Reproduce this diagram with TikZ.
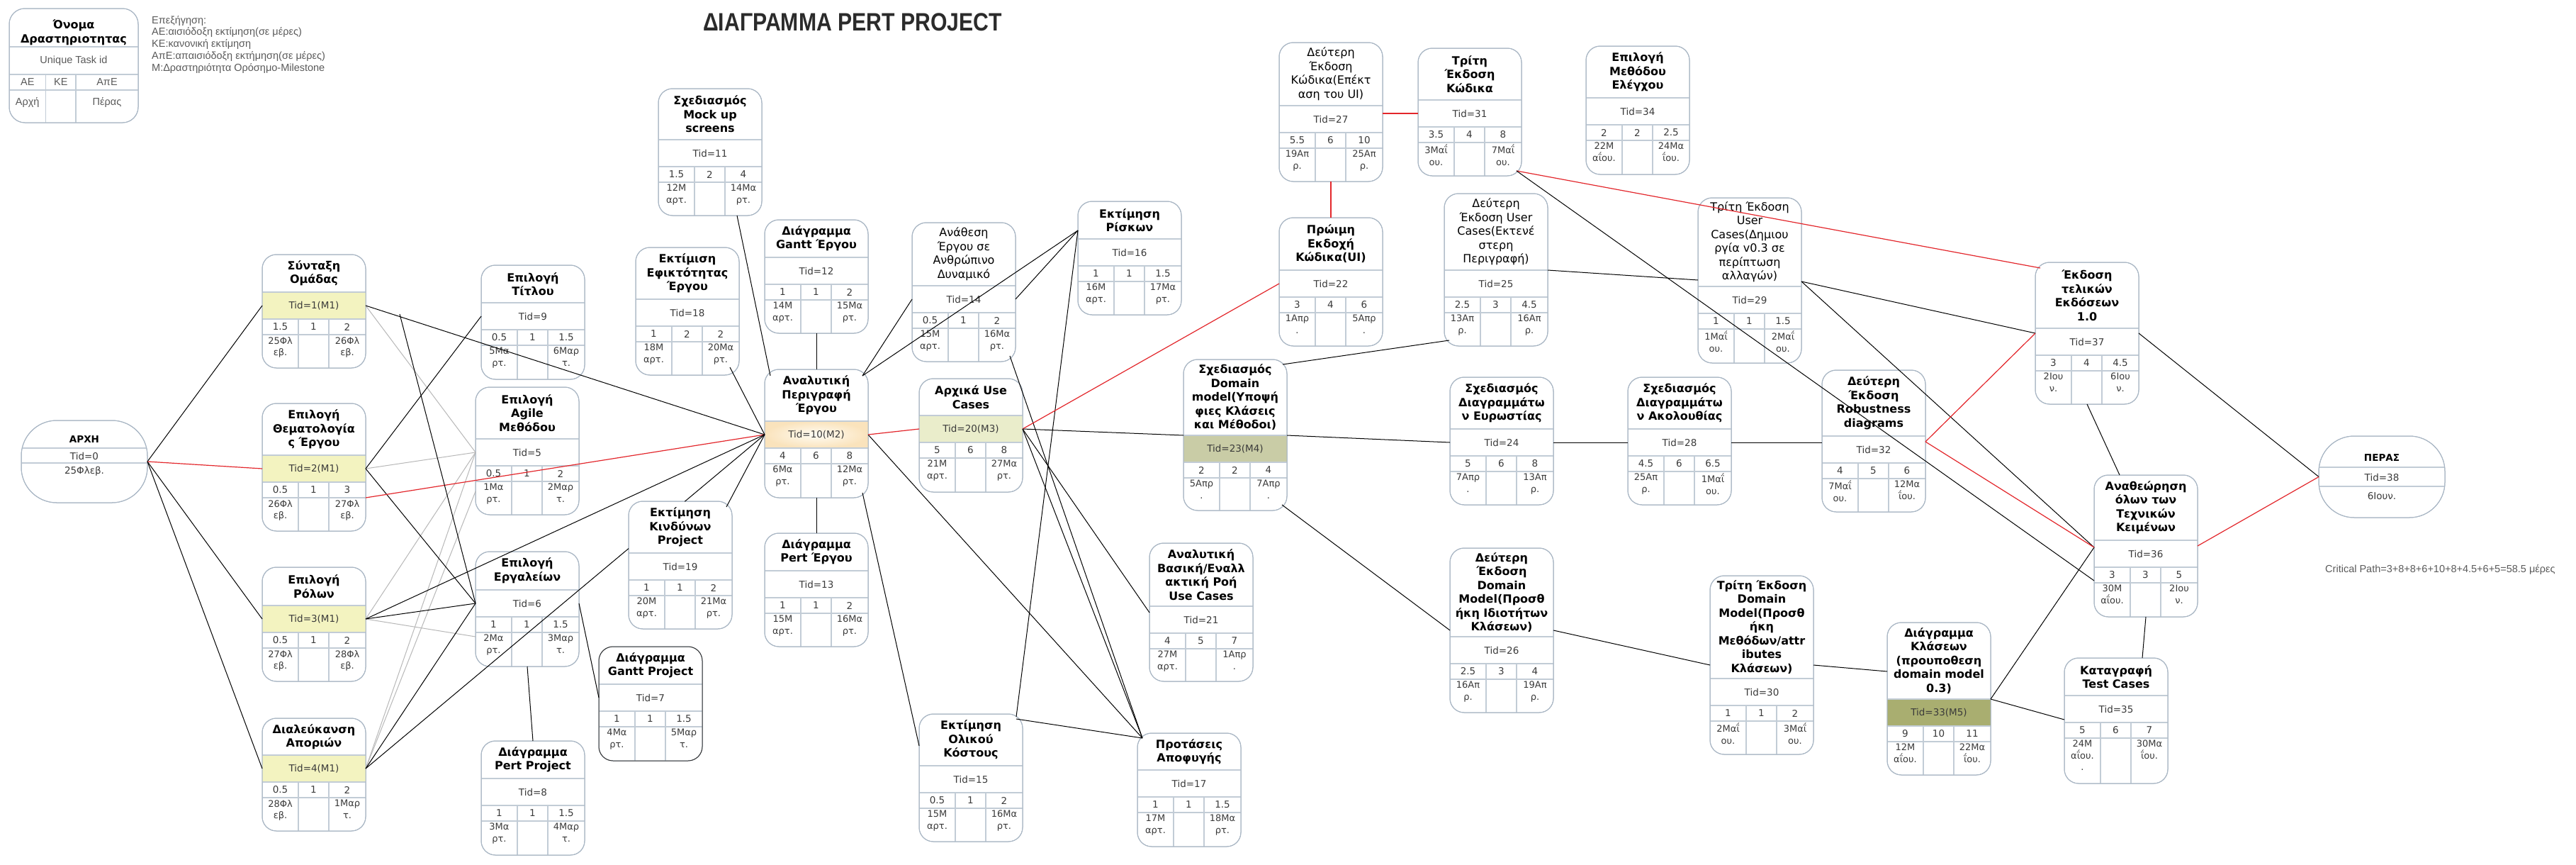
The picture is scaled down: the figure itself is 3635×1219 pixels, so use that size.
\documentclass[tikz,border=0pt]{standalone}
\usepackage{fontspec}
\setmainfont{DejaVu Sans}
\newfontfamily\lib{Liberation Sans}
\usetikzlibrary{calc}
\definecolor{bordc}{HTML}{A9B6C4}
\definecolor{sepc}{HTML}{C2CCD6}
\definecolor{mone}{HTML}{F3F3C0}
\definecolor{mthree}{HTML}{EAEDCB}
\definecolor{mfour}{HTML}{C9CCA6}
\definecolor{mfive}{HTML}{A9AE70}
\definecolor{redl}{HTML}{E3262B}
\definecolor{grayl}{HTML}{B8B8B8}
\definecolor{txtc}{HTML}{3A3A3A}
\definecolor{legc}{HTML}{5A5A5A}
\definecolor{titc}{HTML}{2B2B2B}
\definecolor{gradin}{HTML}{FFFCF4}
\definecolor{gradout}{HTML}{FAE3BC}
\newcommand\tfont{\bfseries}
\newcommand\pbcol{bordc}
\tikzset{
 pshell/.style={draw=bordc, line width=1pt, fill=white, rounded corners=20pt, minimum width=146pt, inner sep=0pt, outer sep=0pt},
 prow/.style={minimum width=146pt, minimum height=38pt, inner sep=0pt, outer sep=0pt, text=txtc, font=\fontsize{13.5}{16}\selectfont},
 psep/.style={draw=sepc, line width=2pt},
 pcol/.style={draw=sepc, line width=1.2pt},
 ptitle/.style={align=center, inner sep=0pt, font={\fontsize{16}{19.5}\selectfont\tfont}, text=black},
 pnum/.style={inner sep=0pt, font=\fontsize{13.5}{16}\selectfont, text=txtc},
 pdate/.style={inner sep=0pt, anchor=north, align=center, font=\fontsize{13}{16.5}\selectfont, text=txtc},
 legtxt/.style={inner sep=0pt, font=\lib\fontsize{14.5}{16.8}\selectfont, text=legc},
 conn/.style={draw=black, line width=1pt},
 crit/.style={draw=redl, line width=1.2pt},
 faint/.style={draw=grayl, line width=1pt},
 rowone/.style={fill=mone},
 rowtwo/.style={inner color=gradin, outer color=gradout},
 rowthree/.style={fill=mthree},
 rowfour/.style={fill=mfour},
 rowfive/.style={fill=mfive},
}
% #1 name #2 L #3 T #4 title bottom #5 bottom #6 title #7 tid text #8 row style
\newcommand\pbox[8]{%
  \pgfmathsetmacro\pbH{#5-#3}%
  \node[pshell, minimum height=\pbH pt, anchor=north west] (#1) at (#2,#3) {};
  \node[prow, anchor=north west, #8] (#1r) at (#2,#4) {#7};
  \draw[psep] (#1r.north west) -- (#1r.north east);
  \draw[psep] (#1r.south west) -- (#1r.south east);
  \draw[psep] ($(#1r.south west)+(0,22)$) -- ($(#1r.south east)+(0,22)$);
  \draw[pcol] ($(#1r.south west)+(51,0)$) -- ($(#1.south west)+(51,0)$);
  \draw[pcol] ($(#1r.south west)+(94,0)$) -- ($(#1.south west)+(94,0)$);
  \node[ptitle] (#1t) at ($(#1.north)!0.5!(#1r.north)$) {#6};
  \draw[draw=\pbcol, line width=1pt, rounded corners=20pt] (#1.north west) rectangle (#1.south east);
}
% #1 name #2 AE #3 KE #4 ApE #5 start #6 end
\newcommand\pvals[6]{%
  \node[pnum] (#1a) at ($(#1r.south west)+(25.5,11)$) {#2};
  \node[pnum] (#1k) at ($(#1r.south west)+(72.5,11)$) {#3};
  \node[pnum] (#1p) at ($(#1r.south west)+(120,11)$) {#4};
  \node[pdate] (#1s) at ($(#1r.south west)+(25.5,25)$) {#5};
  \node[pdate] (#1e) at ($(#1r.south west)+(120,25)$) {#6};
}
\begin{document}
\begin{tikzpicture}[x=1pt,y=-1pt]
\useasboundingbox (0,0) rectangle (3635,1219);
\fill[white] (0,0) rectangle (3635,1219);

% title
\node[font=\lib\bfseries\fontsize{35.5}{40}\selectfont, text=titc, inner sep=0pt] (title) at (1203,31) {\scalebox{0.85}[1]{ΔΙΑΓΡΑΜΜΑ PERT PROJECT}};

% legend
\node[pshell, rounded corners=22pt, minimum width=182pt, minimum height=161pt, anchor=north west] (lg) at (13,12) {};
\draw[psep] ($(lg.north west)+(0,54)$) -- ($(lg.north east)+(0,54)$);
\draw[psep] ($(lg.north west)+(0,93)$) -- ($(lg.north east)+(0,93)$);
\draw[psep] ($(lg.north west)+(0,115)$) -- ($(lg.north east)+(0,115)$);
\draw[pcol] ($(lg.north west)+(51.5,93)$) -- ($(lg.south west)+(51.5,0)$);
\draw[pcol] ($(lg.north west)+(94,93)$) -- ($(lg.south west)+(94,0)$);
\draw[draw=bordc, line width=1pt, rounded corners=22pt] (lg.north west) rectangle (lg.south east);
\node[ptitle] (lgt) at ($(lg.north)+(0,34)$) {Όνομα\\Δραστηριοτητας};
\node[legtxt] (lgid) at ($(lg.north)+(0,74)$) {Unique Task id};
\node[legtxt] (lgae) at ($(lg.north west)+(25.75,104)$) {ΑΕ};
\node[legtxt] (lgke) at ($(lg.north west)+(72.75,104)$) {ΚΕ};
\node[legtxt] (lgape) at ($(lg.north west)+(138,104)$) {ΑπΕ};
\node[legtxt] (lgs) at ($(lg.north west)+(25.75,133)$) {Αρχή};
\node[legtxt] (lge) at ($(lg.north west)+(138,133)$) {Πέρας};
\node[legtxt, anchor=north west, align=left] (expl) at (214,22) {Επεξήγηση:\\ΑΕ:αισιόδοξη εκτίμηση(σε μέρες)\\ΚΕ:κανονική εκτίμηση\\ΑπΕ:απαισιόδοξη εκτήμηση(σε μέρες)\\Μ:Δραστηριότητα Ορόσημο-Milestone};
\node[legtxt, anchor=west] (cp) at (3281,804) {Critical Path=3+8+8+6+10+8+4.5+6+5=58.5 μέρες};

% start / end
\node[pshell, rounded corners=50pt, minimum width=178pt, minimum height=116pt, anchor=north west] (s) at (30,593) {};
\draw[psep] ($(s.north west)+(1,39)$) -- ($(s.north east)+(-1,39)$);
\draw[psep] ($(s.north west)+(0,59.5)$) -- ($(s.north east)+(0,59.5)$);
\node[pnum, font=\fontsize{13.5}{16}\selectfont\bfseries, text=black] (st) at ($(s.north)+(0,27)$) {ΑΡΧΗ};
\node[pnum] (sid) at ($(s.north)+(0,50)$) {Tid=0};
\node[pnum] (sd) at ($(s.north)+(0,72)$) {25Φλεβ.};
\draw[draw=bordc, line width=1pt, rounded corners=50pt] (s.north west) rectangle (s.south east);

\node[pshell, rounded corners=50pt, minimum width=178pt, minimum height=115pt, anchor=north west] (e) at (3272,615) {};
\draw[psep] ($(e.north west)+(1,44)$) -- ($(e.north east)+(-1,44)$);
\draw[psep] ($(e.north west)+(1,71)$) -- ($(e.north east)+(-1,71)$);
\node[pnum, font=\fontsize{13.5}{16}\selectfont\bfseries, text=black] (et) at ($(e.north)+(0,31)$) {ΠΕΡΑΣ};
\node[pnum] (eid) at ($(e.north)+(0,58)$) {Tid=38};
\node[pnum] (ed) at ($(e.north)+(0,85)$) {6Ιουν.};
\draw[draw=bordc, line width=1pt, rounded corners=50pt] (e.north west) rectangle (e.south east);

% activity boxes
\pbox{t1}{370}{359}{412}{519}{Σύνταξη\\Ομάδας}{Tid=1(M1)}{rowone}
\pvals{t1}{1.5}{1}{2}{25Φλ\\εβ.}{26Φλ\\εβ.}
\pbox{t2}{370}{569}{642}{749}{Επιλογή\\Θεματολογία\\ς Έργου}{Tid=2(M1)}{rowone}
\pvals{t2}{0.5}{1}{3}{26Φλ\\εβ.}{27Φλ\\εβ.}
\pbox{t3}{370}{800}{854}{961}{Επιλογή\\Ρόλων}{Tid=3(M1)}{rowone}
\pvals{t3}{0.5}{1}{2}{27Φλ\\εβ.}{28Φλ\\εβ.}
\pbox{t4}{370}{1013}{1065}{1172}{Διαλεύκανση\\Αποριών}{Tid=4(M1)}{rowone}
\pvals{t4}{0.5}{1}{2}{28Φλ\\εβ.}{1Μαρ\\τ.}
\pbox{t5}{671}{546}{619}{726}{Επιλογή\\Agile\\Μεθόδου}{Tid=5}{}
\pvals{t5}{0.5}{1}{2}{1Μα\\ρτ.}{2Μαρ\\τ.}
\pbox{t6}{671}{778}{832}{940}{Επιλογή\\Εργαλείων}{Tid=6}{}
\pvals{t6}{1}{1}{1.5}{2Μα\\ρτ.}{3Μαρ\\τ.}
\renewcommand\pbcol{black!80}
\pbox{t7}{845}{912}{965}{1073}{Διάγραμμα\\Gantt Project}{Tid=7}{}
\renewcommand\pbcol{bordc}
\pvals{t7}{1}{1}{1.5}{4Μα\\ρτ.}{5Μαρ\\τ.}
\pbox{t8}{679}{1045}{1098}{1206}{Διάγραμμα\\Pert Project}{Tid=8}{}
\pvals{t8}{1}{1}{1.5}{3Μα\\ρτ.}{4Μαρ\\τ.}
\pbox{t9}{679}{374}{427}{535}{Επιλογή\\Τίτλου}{Tid=9}{}
\pvals{t9}{0.5}{1}{1.5}{5Μα\\ρτ.}{6Μαρ\\τ.}
\pbox{t10}{1079}{521}{594}{702}{Αναλυτική\\Περιγραφή\\Έργου}{Tid=10(M2)}{rowtwo}
\pvals{t10}{4}{6}{8}{6Μα\\ρτ.}{12Μα\\ρτ.}
\pbox{t11}{929}{125}{197}{304}{Σχεδιασμός\\Mock up\\screens}{Tid=11}{}
\pvals{t11}{1.5}{2}{4}{12Μ\\αρτ.}{14Μα\\ρτ.}
\pbox{t12}{1079}{310}{363}{470}{Διάγραμμα\\Gantt Έργου}{Tid=12}{}
\pvals{t12}{1}{1}{2}{14Μ\\αρτ.}{15Μα\\ρτ.}
\pbox{t13}{1079}{752}{805}{912}{Διάγραμμα\\Pert Έργου}{Tid=13}{}
\pvals{t13}{1}{1}{2}{15Μ\\αρτ.}{16Μα\\ρτ.}
\renewcommand\tfont{\mdseries}
\pbox{t14}{1287}{314}{403}{510}{Ανάθεση\\Έργου σε\\Ανθρώπινο\\Δυναμικό}{Tid=14}{}
\renewcommand\tfont{\bfseries}
\pvals{t14}{0.5}{1}{2}{15Μ\\αρτ.}{16Μα\\ρτ.}
\pbox{t15}{1297}{1007}{1080}{1187}{Εκτίμηση\\Ολικού\\Κόστους}{Tid=15}{}
\pvals{t15}{0.5}{1}{2}{15Μ\\αρτ.}{16Μα\\ρτ.}
\pbox{t16}{1521}{284}{337}{444}{Εκτίμηση\\Ρίσκων}{Tid=16}{}
\pvals{t16}{1}{1}{1.5}{16Μ\\αρτ.}{17Μα\\ρτ.}
\pbox{t17}{1605}{1034}{1086}{1194}{Προτάσεις\\Αποφυγής}{Tid=17}{}
\pvals{t17}{1}{1}{1.5}{17Μ\\αρτ.}{18Μα\\ρτ.}
\pbox{t18}{897}{349}{422}{529}{Εκτίμιση\\Εφικτότητας\\Έργου}{Tid=18}{}
\pvals{t18}{1}{2}{2}{18Μ\\αρτ.}{20Μα\\ρτ.}
\pbox{t19}{887}{707}{780}{887}{Εκτίμηση\\Κινδύνων\\Project}{Tid=19}{}
\pvals{t19}{1}{1}{2}{20Μ\\αρτ.}{21Μα\\ρτ.}
\pbox{t20}{1297}{534}{586}{694}{Αρχικά Use\\Cases}{Tid=20(M3)}{rowthree}
\pvals{t20}{5}{6}{8}{21Μ\\αρτ.}{27Μα\\ρτ.}
\pbox{t21}{1622}{766}{855}{961}{Αναλυτική\\Βασική/Εναλλ\\ακτική Ροή\\Use Cases}{Tid=21}{}
\pvals{t21}{4}{5}{7}{27Μ\\αρτ.}{1Απρ\\.}
\pbox{t22}{1805}{307}{381}{488}{Πρώιμη\\Εκδοχή\\Κώδικα(UI)}{Tid=22}{}
\pvals{t22}{3}{4}{6}{1Απρ\\.}{5Απρ\\.}
\pbox{t23}{1670}{507}{614}{720}{Σχεδιασμός\\Domain\\model(Υποψή\\φιες Κλάσεις\\και Μέθοδοι)}{Tid=23(M4)}{rowfour}
\pvals{t23}{2}{2}{4}{5Απρ\\.}{7Απρ\\.}
\pbox{t24}{2046}{532}{605}{712}{Σχεδιασμός\\Διαγραμμάτω\\ν Ευρωστίας}{Tid=24}{}
\pvals{t24}{5}{6}{8}{7Απρ\\.}{13Απ\\ρ.}
\renewcommand\tfont{\mdseries}
\pbox{t25}{2038}{273}{381}{488}{Δεύτερη\\Έκδοση User\\Cases(Εκτενέ\\στερη\\Περιγραφή)}{Tid=25}{}
\renewcommand\tfont{\bfseries}
\pvals{t25}{2.5}{3}{4.5}{13Απ\\ρ.}{16Απ\\ρ.}
\pbox{t26}{2046}{773}{898}{1005}{Δεύτερη\\Έκδοση\\Domain\\Model(Προσθ\\ήκη Ιδιοτήτων\\Κλάσεων)}{Tid=26}{}
\pvals{t26}{2.5}{3}{4}{16Απ\\ρ.}{19Απ\\ρ.}
\renewcommand\tfont{\mdseries}
\pbox{t27}{1805}{60}{149}{256}{Δεύτερη\\Έκδοση\\Κώδικα(Επέκτ\\αση του UI)}{Tid=27}{}
\renewcommand\tfont{\bfseries}
\pvals{t27}{5.5}{6}{10}{19Απ\\ρ.}{25Απ\\ρ.}
\pbox{t28}{2297}{532}{605}{712}{Σχεδιασμός\\Διαγραμμάτω\\ν Ακολουθίας}{Tid=28}{}
\pvals{t28}{4.5}{6}{6.5}{25Απ\\ρ.}{1Μαΐ\\ου.}
\renewcommand\tfont{\mdseries}
\pbox{t29}{2396}{279}{404}{512}{Τρίτη Έκδοση\\User\\Cases(Δημιου\\ργία v0.3 σε\\περίπτωση\\αλλαγών)}{Tid=29}{}
\renewcommand\tfont{\bfseries}
\pvals{t29}{1}{1}{1.5}{1Μαΐ\\ου.}{2Μαΐ\\ου.}
\pbox{t30}{2413}{812}{957}{1064}{Τρίτη Έκδοση\\Domain\\Model(Προσθ\\ήκη\\Μεθόδων/attr\\ibutes\\Κλάσεων)}{Tid=30}{}
\pvals{t30}{1}{1}{2}{2Μαΐ\\ου.}{3Μαΐ\\ου.}
\pbox{t31}{2001}{68}{141}{248}{Τρίτη\\Έκδοση\\Κώδικα}{Tid=31}{}
\pvals{t31}{3.5}{4}{8}{3Μαΐ\\ου.}{7Μαΐ\\ου.}
\pbox{t32}{2571}{522}{615}{722}{Δεύτερη\\Έκδοση\\Robustness\\diagrams}{Tid=32}{}
\pvals{t32}{4}{5}{6}{7Μαΐ\\ου.}{12Μα\\ΐου.}
\pbox{t33}{2663}{878}{986}{1093}{Διάγραμμα\\Κλάσεων\\(προυποθεση\\domain model\\0.3)}{Tid=33(M5)}{rowfive}
\pvals{t33}{9}{10}{11}{12Μ\\αΐου.}{22Μα\\ΐου.}
\pbox{t34}{2238}{65}{138}{246}{Επιλογή\\Μεθόδου\\Ελέγχου}{Tid=34}{}
\pvals{t34}{2}{2}{2.5}{22Μ\\αΐου.}{24Μα\\ΐου.}
\pbox{t35}{2913}{928}{981}{1105}{Καταγραφή\\Test Cases}{Tid=35}{}
\pvals{t35}{5}{6}{7}{24Μ\\αΐου.\\.}{30Μα\\ΐου.}
\pbox{t36}{2955}{670}{762}{870}{Αναθεώρηση\\όλων των\\Τεχνικών\\Κειμένων}{Tid=36}{}
\pvals{t36}{3}{3}{5}{30Μ\\αΐου.}{2Ιου\\ν.}
\pbox{t37}{2872}{370}{463}{570}{Έκδοση\\τελικών\\Εκδόσεων\\1.0}{Tid=37}{}
\pvals{t37}{3}{4}{4.5}{2Ιου\\ν.}{6Ιου\\ν.}

% ---- connectors ----
\draw[conn] (s.east) -- (t1r.west);
\draw[crit] (s.east) -- (t2r.west);
\draw[conn] (s.east) -- (t3r.west);
\draw[conn] (s.east) -- (t4r.west);
\draw[faint] (t1r.east) -- (t5r.west);
\draw[faint] (t2r.east) -- (t5r.west);
\draw[faint] (t3r.east) -- (t5r.west);
\draw[faint] (t4r.east) -- (t5r.west);
\draw[faint] (t4r.east) -- ($(t5r.south west)+(0,36)$);
\draw[faint] (t3r.east) -- ($(t6r.south west)+(0,28)$);
\draw[conn] (t1r.east) -- (t10r.west);
\draw[conn] (t2r.east) -- (t9r.west);
\draw[conn] (t2r.east) -- (t6r.west);
\draw[crit] ($(t2r.south east)+(0,22)$) -- (t10r.west);
\draw[conn] (t3r.east) -- (t10r.west);
\draw[conn] (t3r.east) -- (t6r.west);
\draw[conn] (t4r.east) -- (t6r.west);
\draw[conn] (t4r.east) -- ($(t4r.east)!0.659!(t10r.west)$);
\draw[conn] ($(t4r.east)!0.80!(t10r.west)$) -- (t10r.west);
\coordinate (d1) at (564,443);
\draw[conn] (d1) -- (t6r.west);
\draw[conn] (t6r.east) -- (t7r.west);
\draw[conn] (t6.south) -- (t8.north);
\draw[conn] ($(t11.south west)+(111,0)$) -- ($(t10.north west)+(8,9)$);
\draw[conn] (t12.south) -- (t10.north);
\draw[conn] (t10.south) -- (t13.north);
\draw[conn] ($(t18.south east)+(-13,-11)$) -- (t10r.west);
\draw[conn] ($(t19.north east)+(-8,8)$) -- (t10r.west);
\draw[conn] ($(t10.north east)+(-8,9)$) -- (t14r.west);
\draw[conn] ($(t10.north east)+(-8,9)$) -- ($(t16.north west)+(0,41)$);
\draw[conn] (t14r.east) -- ($(t16.north west)+(0,41)$);
\draw[conn] ($(t16.north west)+(0,41)$) -- ($(t15.north east)+(-9,4)$);
\draw[conn] ($(t14.south east)+(-8,-8)$) -- ($(t17.north west)+(7,7)$);
\draw[conn] (t10r.east) -- ($(t17.north west)+(7,7)$);
\draw[conn] ($(t15.north east)+(-9,7)$) -- ($(t17.north west)+(7,7)$);
\draw[conn] ($(t10.south east)+(-8,-7)$) -- ($(t15.north west)+(0,45)$);
\draw[conn] (t20r.east) -- ($(t17.north west)+(7,7)$);
\draw[conn] (t20r.east) -- ($(t21r.north west)+(0,9)$);
\draw[crit] (t10r.east) -- (t20r.west);
\draw[crit] (t20r.east) -- (t22r.west);
\draw[conn] (t20r.east) -- (t23r.north west);
\draw[conn] (t23r.north east) -- (t24r.west);
\draw[conn] (t24r.east) -- (t28r.west);
\draw[conn] (t28r.east) -- (t28r.east -| t32.west);
\draw[conn] ($(t23.north east)+(-6,7)$) -- ($(t25.south west)+(7,-8)$);
\draw[conn] ($(t23.south east)+(-7,-8)$) -- ($(t26r.north west)+(0,-9)$);
\draw[conn] ($(t26r.north east)+(0,-9)$) -- ($(t30r.north west)+(0,-19)$);
\draw[conn] ($(t30r.north east)+(0,-19)$) -- ($(t33r.north west)+(0,-39)$);
\draw[conn] (t33r.north east) -- ($(t35r.south west)+(0,-4)$);
\draw[conn] (t33r.north east) -- ($(t36r.north west)+(0,10)$);
\draw[crit] (t22.north) -- (t27.south);
\draw[crit] (t31r.west -| t27.east) -- (t31r.west);
\draw[crit] ($(t31.south east)+(-7,-7)$) -- ($(t37.north west)+(7,8)$);
\draw[conn] ($(t31.south east)+(-7,-7)$) -- ($(t36r.south west)+(0,19)$);
\draw[conn] (t25r.north east) -- ($(t29r.north west)+(0,-9)$);
\draw[conn] ($(t29r.north east)+(0,-7)$) -- ($(t37r.north west)+(0,7)$);
\draw[conn] ($(t29r.north east)+(0,-7)$) -- ($(t36r.north west)+(0,10)$);
\draw[crit] ($(t32r.north east)+(0,8)$) -- ($(t37r.north west)+(0,7)$);
\draw[crit] ($(t32r.north east)+(0,8)$) -- ($(t36r.north west)+(0,10)$);
\draw[conn] (t37.south) -- ($(t36.north west)+(36,0)$);
\draw[conn] (t36.south) -- ($(t35.north west)+(110,0)$);
\draw[conn] ($(t37r.north east)+(0,7)$) -- (e.west);
\draw[crit] ($(t36r.north east)+(0,8)$) -- (e.west);
\end{tikzpicture}
\end{document}
